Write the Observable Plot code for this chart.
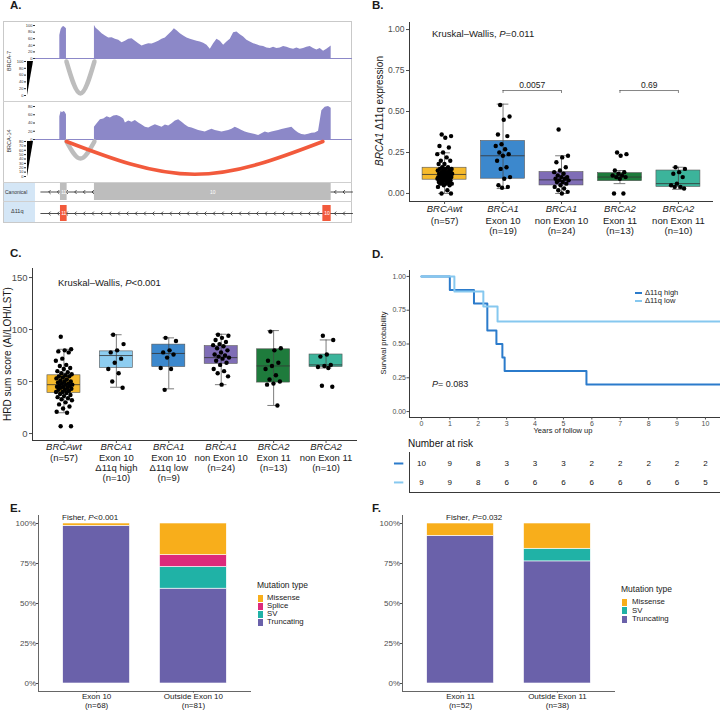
<!DOCTYPE html>
<html>
<head>
<meta charset="utf-8">
<script src="https://cdn.jsdelivr.net/npm/d3@7"></script>
<script src="https://cdn.jsdelivr.net/npm/@observablehq/plot@0.6"></script>
<style>
  body { margin: 0; background: #fff; font-family: "Liberation Sans", Arial, Helvetica, sans-serif; }
  #fig { position: relative; width: 720px; height: 711px; overflow: hidden; background: #fff; }
  .lbl { position: absolute; white-space: nowrap; line-height: 1; color: #1a1a1a; }
  .vt { position: absolute; white-space: nowrap; line-height: 1; color: #1a1a1a; transform: translate(-50%, -50%) rotate(-90deg); }
  .blk { position: absolute; }
</style>
</head>
<body>
<div id="fig"></div>
<script>
const FONT = "'Liberation Sans', Arial, Helvetica, sans-serif";

// ---------------- Panel A: coverage + sashimi tracks (relative genomic position units) ----------------
const posDomain = [105, 1057];
const exon11Pos = [178, 182, 186, 190, 194, 198];
const cov7Exon11 = [70, 88, 95, 97, 94, 90];
const cov14Exon11 = [55, 68, 65, 68, 66, 60];
const cov7Exon10Pos = [282,287,295,305,315,325,335,345,355,365,375,385,395,405,415,425,435,445,455,465,475,485,495,505,515,522,530,540,550,560,570,580,590,600,610,620,630,640,650,660,670,680,690,700,710,720,730,740,750,760,770,780,790,800,810,820,830,840,850,860,870,880,890,900,910,920,930,940,950,960,970,980,993];
const cov7Exon10 = [100,92,85,75,68,62,63,58,55,48,52,58,60,52,45,38,42,45,44,48,52,58,62,72,82,90,84,75,68,62,58,55,52,50,46,40,28,45,58,52,40,50,58,78,80,72,65,55,50,45,42,38,36,32,30,34,30,32,36,34,30,28,32,28,30,34,36,30,26,30,22,28,38];
const cov14Exon10Pos = [282,290,300,310,320,330,340,350,360,370,375,385,395,405,415,425,435,445,455,465,475,485,495,505,515,525,535,545,555,565,575,585,595,605,615,625,635,645,655,665,675,685,695,705,715,725,735,745,755,765,775,785,795,805,815,825,835,845,855,865,875,885,895,905,915,925,935,945,955,965,975,985,993];
const cov14Exon10 = [30,38,48,50,55,52,57,58,55,50,40,45,42,46,40,35,30,28,32,36,33,30,35,33,38,45,48,42,35,30,28,25,22,20,18,22,25,22,20,18,20,22,25,30,26,22,18,16,14,12,10,14,18,16,18,20,22,24,26,28,30,22,16,12,11,13,15,16,20,70,78,80,76];

// splice junctions drawn as arcs under each sample
const juncSample = ["BRCA-7", "BRCA-14", "BRCA-14"];
const juncStart = [198, 198, 198];
const juncEnd = [282, 282, 968];
const juncBottom = [6, 41, 5];
const juncKind = ["canonical", "canonical", "Δ11q"];

// transcript models
const exonNames = ["11", "10"];
const canonicalStart = [180, 282];
const canonicalEnd = [200, 993];
const deltaStart = [180, 968];
const deltaEnd = [200, 993];

// ---------------- Panel B: BRCA1 Δ11q expression ----------------
const bGene = ["BRCAwt", "BRCA1", "BRCA1", "BRCA2", "BRCA2"];
const bSub = ["(n=57)", "Exon 10\n(n=19)", "non Exon 10\n(n=24)", "Exon 11\n(n=13)", "non Exon 11\n(n=10)"];
const bColors = ["#F6BA2C", "#3C88CD", "#7F6DB6", "#1E7B3C", "#3CB49B"];
const bQ1 = [0.084, 0.09, 0.049, 0.075, 0.04];
const bMed = [0.116, 0.23, 0.083, 0.10, 0.06];
const bQ3 = [0.157, 0.32, 0.13, 0.124, 0.14];
const bLo = [0.0, 0.03, 0.0, 0.06, 0.025];
const bHi = [0.248, 0.545, 0.23, 0.14, 0.16];
const bPoints = [
  [0.36,0.35,0.34,0.29,0.28,0.25,0.24,0.22,0.20,0.20,0.18,0.18,0.16,0.16,0.15,0.15,0.15,0.14,0.14,0.14,0.13,0.13,0.13,0.13,0.12,0.12,0.12,0.12,0.11,0.11,0.11,0.11,0.10,0.10,0.10,0.10,0.10,0.09,0.09,0.09,0.09,0.08,0.08,0.08,0.08,0.07,0.07,0.07,0.06,0.06,0.06,0.05,0.05,0.04,0.02,0.00,0.00],
  [0.54,0.47,0.45,0.36,0.35,0.30,0.29,0.27,0.25,0.24,0.23,0.20,0.16,0.15,0.10,0.09,0.05,0.04,0.035],
  [0.39,0.23,0.22,0.19,0.16,0.14,0.13,0.12,0.11,0.10,0.10,0.09,0.09,0.08,0.08,0.07,0.07,0.06,0.05,0.04,0.03,0.02,0.01,0.00],
  [0.25,0.24,0.23,0.14,0.13,0.12,0.11,0.11,0.10,0.10,0.09,0.00,0.00],
  [0.16,0.15,0.13,0.12,0.10,0.06,0.05,0.04,0.04,0.03]
];
const bCmpFrom = [2, 4];
const bCmpTo = [3, 5];
const bCmpY = [0.628, 0.628];
const bCmpLabel = ["0.0057", "0.69"];

// ---------------- Panel C: HRD sum score ----------------
const cGene = ["BRCAwt", "BRCA1", "BRCA1", "BRCA1", "BRCA2", "BRCA2"];
const cSub = ["(n=57)", "Exon 10\nΔ11q high\n(n=10)", "Exon 10\nΔ11q low\n(n=9)", "non Exon 10\n(n=24)", "Exon 11\n(n=13)", "non Exon 11\n(n=10)"];
const cColors = ["#F6BA2C", "#8DCDF0", "#3C88CD", "#7F6DB6", "#1E7B3C", "#3CB49B"];
const cQ1 = [39, 63, 64, 67, 49, 64];
const cMed = [47, 75, 77, 73, 65, 66];
const cQ3 = [56, 79, 85.5, 84, 81, 76];
const cLo = [20, 44.5, 43, 47, 27, 63];
const cHi = [81, 95, 92, 95.5, 99, 90];
const cPoints = [
  [93,81,80,79,78,72,70,66,65,63,62,60,59,58,57,56,55,55,54,53,52,51,50,50,49,48,48,47,47,46,46,45,45,44,44,43,42,42,41,40,40,39,38,37,36,35,34,33,32,30,28,26,24,21,20,7,7],
  [95,86,80,78,72,68,62,58,50,44],
  [92,89,80,78,76,73,63,62,42],
  [95,94,92,90,88,86,85,84,82,80,78,76,75,74,73,72,70,68,66,62,60,58,55,47],
  [98,82,80,70,68,65,62,56,52,50,48,47,27],
  [94,90,76,74,66,65,64,63,46,45]
];

// ---------------- Panel D: Kaplan–Meier by Δ11q level ----------------
const kmGroups = ["Δ11q high", "Δ11q low"];
const kmColors = ["#2B7BCB", "#86C8EF"];
const highTimes = [0, 1.0, 1.85, 2.32, 2.64, 2.85, 2.93, 5.81, 10.6];
const highSurv = [1, 0.9, 0.8, 0.6, 0.5, 0.4, 0.3, 0.2, 0.2];
const lowTimes = [0, 1.16, 2.18, 2.68, 10.6];
const lowSurv = [1, 0.889, 0.778, 0.667, 0.667];
const riskYears = [0, 1, 2, 3, 4, 5, 6, 7, 8, 9, 10];
const riskHigh = [10, 9, 8, 3, 3, 3, 2, 2, 2, 2, 2];
const riskLow = [9, 9, 8, 6, 6, 6, 6, 6, 6, 6, 5];

// ---------------- Panels E & F: mutation types ----------------
const mutTypes = ["Missense", "Splice", "SV", "Truncating"];
const mutColors = ["#F8AE1B", "#DD2A7B", "#20B2A6", "#6A61AA"];
const eGroups = ["Exon 10\n(n=68)", "Outside Exon 10\n(n=81)"];
const eMissense = [1, 16];
const eSplice = [0, 6];
const eSV = [0, 11];
const eTruncating = [67, 48];
const fGroups = ["Exon 11\n(n=52)", "Outside Exon 11\n(n=38)"];
const fMissense = [4, 6];
const fSplice = [0, 0];
const fSV = [0, 3];
const fTruncating = [48, 29];

// ---------------- helpers ----------------
const fig = document.getElementById("fig");
function place(node, left, top) {
  node.style.position = "absolute";
  node.style.left = left + "px";
  node.style.top = top + "px";
  fig.appendChild(node);
  return node;
}
function label(html, left, cy, size, opts = {}) {
  const d = document.createElement("div");
  d.className = "lbl";
  d.innerHTML = html;
  d.style.fontSize = size + "px";
  d.style.left = left + "px";
  d.style.top = cy + "px";
  d.style.transform = opts.center ? "translate(-50%,-50%)" : "translateY(-50%)";
  if (opts.bold) d.style.fontWeight = "bold";
  if (opts.color) d.style.color = opts.color;
  fig.appendChild(d);
  return d;
}
function vlabel(html, cx, cy, size, color) {
  const d = document.createElement("div");
  d.className = "vt";
  d.innerHTML = html;
  d.style.fontSize = size + "px";
  d.style.left = cx + "px";
  d.style.top = cy + "px";
  if (color) d.style.color = color;
  fig.appendChild(d);
  return d;
}
function block(left, top, w, h, css) {
  const d = document.createElement("div");
  d.className = "blk";
  Object.assign(d.style, {left: left + "px", top: top + "px", width: w + "px", height: h + "px"}, css);
  fig.appendChild(d);
  return d;
}
const style = (size, color = "#4d4d4d") => ({background: "transparent", fontFamily: FONT, fontSize: size + "px", color, overflow: "visible"});
const jit = (j, w) => (((j * 0.6180339887 + 0.31) % 1) - 0.5) * 2 * w;

// ---------------- Panel A ----------------
block(3, 21, 349, 202, {border: "1px solid #c9c9c9", boxSizing: "border-box"});
block(4, 183, 31, 18, {background: "#D4E6F6"});
block(4, 202, 31, 20, {background: "#D4E6F6"});
block(3, 101, 349, 1, {background: "#cfcfcf"});
block(3, 182, 349, 1, {background: "#cfcfcf"});
block(3, 201, 349, 1, {background: "#cfcfcf"});

const covColor = "#8C88C8";
function coverageRows(segments) {
  return segments.flatMap(([pos, val], s) => [
    {segment: s, pos: pos[0], value: 0},
    ...pos.map((p, k) => ({segment: s, pos: p, value: val[k]})),
    {segment: s, pos: pos[pos.length - 1], value: 0}
  ]);
}
// each junction: a smooth arc from its donor to its acceptor, dipping to its bottom value
function arcRows(sample, top) {
  return juncSample.flatMap((s, k) => s !== sample ? [] : [
    {id: k, kind: juncKind[k], pos: juncStart[k], y: top},
    {id: k, kind: juncKind[k], pos: (juncStart[k] + juncEnd[k]) / 2, y: juncBottom[k]},
    {id: k, kind: juncKind[k], pos: juncEnd[k], y: top}
  ]);
}
function trackPlot(top, height, mt, mb, ydomain, marks) {
  const svg = Plot.plot({
    width: 349, height, marginLeft: 32, marginRight: 0, marginTop: mt, marginBottom: mb,
    x: {domain: posDomain, axis: null},
    y: {domain: ydomain, axis: null},
    style: style(4, "#333"),
    marks
  });
  place(svg, 3, top);
}
function coverageTrack(top, height, mt, mb, ymax, ticks, rows) {
  trackPlot(top, height, mt, mb, [0, ymax], [
    Plot.ruleY([0], {stroke: covColor, strokeWidth: 1}),
    Plot.areaY(rows, {x: "pos", y: "value", z: "segment", fill: covColor}),
    Plot.axisY({ticks, tickSize: 2, tickPadding: 1, fontSize: 4, label: null})
  ]);
}
function sashimiTrack(top, height, mt, mb, ymax, ticks, sample) {
  const rows = arcRows(sample, ymax);
  trackPlot(top, height, mt, mb, [0, ymax], [
    Plot.areaX([0, ymax], {y: d => d, x1: () => 81, x2: d => 81 + d * 18 / ymax, fill: "#000"}),
    Plot.axisY({ticks, tickSize: 2, tickPadding: 1, fontSize: 4, dx: -9, label: null}),
    Plot.line(rows.filter(d => d.kind === "canonical"), {x: "pos", y: "y", z: "id", stroke: "#BDBDBD", strokeWidth: 4.5, curve: "natural"}),
    Plot.line(rows.filter(d => d.kind !== "canonical"), {x: "pos", y: "y", z: "id", stroke: "#F25A3C", strokeWidth: 3.6, curve: "natural"})
  ]);
}
function modelTrack(top, height, mt, mb, starts, ends, fill) {
  const exons = exonNames.map((name, k) => ({name, start: starts[k], end: ends[k]}));
  const arrowPos = d3.range(posDomain[1], posDomain[0] - 1, -26);
  trackPlot(top, height, mt, mb, [-1, 1], [
    Plot.line(arrowPos, {x: d => d, y: () => 0, stroke: "#222", strokeWidth: 0.8, markerMid: "arrow"}),
    Plot.rect(exons, {x1: "start", x2: "end", y1: () => -1, y2: () => 1, fill}),
    Plot.text(exons, {x: d => (d.start + d.end) / 2, y: () => 0, text: "name", fill: "#fff", fontSize: 5})
  ]);
}

coverageTrack(21, 38, 4, 1, 100, [0, 20, 40, 60, 80, 100], coverageRows([[exon11Pos, cov7Exon11], [cov7Exon10Pos, cov7Exon10]]));
sashimiTrack(59, 42, 2, 6, 100, [0, 20, 40, 60, 80, 100], "BRCA-7");
coverageTrack(101, 39, 5, 1, 80, [0, 20, 40, 60, 80], coverageRows([[exon11Pos, cov14Exon11], [cov14Exon10Pos, cov14Exon10]]));
sashimiTrack(140, 42, 1, 6, 80, [0, 10, 20, 30, 40, 50, 60, 70, 80], "BRCA-14");
modelTrack(183, 18, 0, 1, canonicalStart, canonicalEnd, "#BDBDBD");
modelTrack(202, 21, 3, 2, deltaStart, deltaEnd, "#F25A3C");

vlabel("BRCA-7", 10, 61, 5.5, "#333");
vlabel("BRCA-14", 10, 141, 5.5, "#333");
label("Canonical", 5, 192, 5, {color: "#333"});
label("Δ11q", 11, 212, 5.5, {color: "#333"});

// ---------------- box + jitter panels (B, C) ----------------
function boxPanel(o) {
  const n = o.gene.length;
  const idx = d3.range(1, n + 1);
  const boxes = idx.map((i, k) => ({i, q1: o.q1[k], med: o.med[k], q3: o.q3[k], lo: o.lo[k], hi: o.hi[k], color: o.colors[k]}));
  const dots = o.points.flatMap((vals, k) => vals.map((v, j) => ({x: k + 1 + jit(j, o.jw), y: v})));
  const x0 = 0.4, x1 = n + 0.6;
  const svg = Plot.plot({
    width: o.width, height: o.height,
    marginLeft: o.ml, marginRight: o.mr, marginTop: o.mt, marginBottom: o.mb,
    x: {domain: [x0, x1], axis: null},
    y: {domain: o.ydomain, axis: null},
    color: {type: "identity"},
    style: style(o.tickFont),
    marks: [
      Plot.rectY(boxes, {x1: d => d.i - o.hw, x2: d => d.i + o.hw, y1: "q1", y2: "q3", fill: "color", stroke: "#555", strokeWidth: 0.6}),
      Plot.ruleY(boxes, {x1: d => d.i - o.hw, x2: d => d.i + o.hw, y: "med", stroke: "#333", strokeWidth: 0.8}),
      Plot.ruleX(boxes, {x: "i", y1: "lo", y2: "hi", stroke: "#444", strokeWidth: 0.7}),
      Plot.ruleY(boxes, {x1: d => d.i - o.cap, x2: d => d.i + o.cap, y: "hi", stroke: "#444", strokeWidth: 0.7}),
      Plot.ruleY(boxes, {x1: d => d.i - o.cap, x2: d => d.i + o.cap, y: "lo", stroke: "#444", strokeWidth: 0.7}),
      Plot.dot(dots, {x: "x", y: "y", r: 2.2, fill: "#000"}),
      Plot.ruleX([x0], {stroke: "#222", strokeWidth: 0.9}),
      Plot.ruleY([o.ydomain[0]], {stroke: "#222", strokeWidth: 0.9}),
      Plot.axisY({ticks: o.yticks, tickFormat: o.yfmt, tickSize: 3, tickPadding: 2, fontSize: o.tickFont, label: null}),
      Plot.axisX({ticks: idx, tickFormat: () => "", tickSize: 3, label: null}),
      Plot.text(idx, {x: d => d, text: (d, k) => o.gene[k], frameAnchor: "bottom", lineAnchor: "top", dy: o.dy1, fontStyle: "italic", fontSize: 9.5, fill: "#1a1a1a"}),
      Plot.text(idx, {x: d => d, text: (d, k) => o.sub[k], frameAnchor: "bottom", lineAnchor: "top", dy: o.dy2, fontSize: 9.5, lineHeight: o.lh, fill: "#1a1a1a"}),
      ...(o.extra || [])
    ]
  });
  place(svg, o.left, o.top);
}

const bCmp = bCmpFrom.map((a, k) => ({a, b: bCmpTo[k], y: bCmpY[k], p: bCmpLabel[k]}));
boxPanel({
  left: 360, top: 0, width: 360, height: 240, ml: 49, mr: 7, mt: 22, mb: 39,
  ydomain: [-0.049, 1.043], yticks: [0, 0.25, 0.5, 0.75, 1], yfmt: d3.format(".2f"), tickFont: 8.5,
  gene: bGene, sub: bSub, colors: bColors, q1: bQ1, med: bMed, q3: bQ3, lo: bLo, hi: bHi, points: bPoints,
  hw: 0.376, cap: 0.1, jw: 0.13, dy1: 3.3, dy2: 14.5, lh: 1.13,
  extra: [
    Plot.ruleY(bCmp, {x1: "a", x2: "b", y: "y", stroke: "#333", strokeWidth: 0.6}),
    Plot.ruleX(bCmp, {x: "a", y1: d => d.y - 0.018, y2: "y", stroke: "#333", strokeWidth: 0.6}),
    Plot.ruleX(bCmp, {x: "b", y1: d => d.y - 0.018, y2: "y", stroke: "#333", strokeWidth: 0.6}),
    Plot.text(bCmp, {x: d => (d.a + d.b) / 2, y: "y", text: "p", dy: -5, lineAnchor: "middle", fontSize: 8.5, fill: "#1a1a1a"})
  ]
});

boxPanel({
  left: 0, top: 262, width: 360, height: 238, ml: 32, mr: 3, mt: 6, mb: 60,
  ydomain: [-6.7, 158.7], yticks: [0, 50, 100, 150], yfmt: d3.format("d"), tickFont: 9.5,
  gene: cGene, sub: cSub, colors: cColors, q1: cQ1, med: cMed, q3: cQ3, lo: cLo, hi: cHi, points: cPoints,
  hw: 0.315, cap: 0.11, jw: 0.16, dy1: 2.6, dy2: 12.6, lh: 1.1
});

// ---------------- Panel D ----------------
const kmRows = [
  ...highTimes.map((t, k) => ({group: kmGroups[0], t, s: highSurv[k]})),
  ...lowTimes.map((t, k) => ({group: kmGroups[1], t, s: lowSurv[k]}))
];
const kmX = [-0.42, 10.53];
place(Plot.plot({
  width: 360, height: 175, marginLeft: 49, marginRight: 0, marginTop: 8, marginBottom: 20,
  x: {domain: kmX, axis: null},
  y: {domain: [-0.044, 1.044], axis: null},
  color: {domain: kmGroups, range: kmColors},
  style: style(7),
  marks: [
    Plot.ruleX([kmX[0]], {stroke: "#222", strokeWidth: 0.9}),
    Plot.ruleY([-0.044], {stroke: "#222", strokeWidth: 0.9}),
    Plot.axisY({ticks: [0, 0.25, 0.5, 0.75, 1], tickFormat: d3.format(".2f"), tickSize: 2.5, tickPadding: 1, fontSize: 7, label: null}),
    Plot.axisX({ticks: riskYears, tickSize: 2.5, tickPadding: 1, fontSize: 7, label: null}),
    Plot.line(kmRows, {x: "t", y: "s", z: "group", stroke: "group", curve: "step-after", strokeWidth: 2})
  ]
}), 360, 262);

const riskRows = riskYears.flatMap((t, k) => [{t, row: 1, n: riskHigh[k]}, {t, row: 2, n: riskLow[k]}]);
place(Plot.plot({
  width: 360, height: 45, marginLeft: 49, marginRight: 0, marginTop: 2, marginBottom: 3,
  x: {domain: kmX, axis: null},
  y: {domain: [2.53, 0.42], axis: null},
  color: {domain: [1, 2], range: kmColors},
  style: style(8, "#111"),
  marks: [
    Plot.ruleX([kmX[0]], {stroke: "#222", strokeWidth: 0.9}),
    Plot.ruleY([2.53], {stroke: "#222", strokeWidth: 0.9}),
    Plot.ruleY([1, 2], {y: d => d, x1: () => -0.95, x2: () => -0.62, stroke: d => d, strokeWidth: 2}),
    Plot.text(riskRows, {x: "t", y: "row", text: "n", fontSize: 8, fill: "#111"})
  ]
}), 360, 450);

// ---------------- Panels E & F ----------------
function mutPanel(left, ml, mr, groups, counts) {
  const stackOrder = ["Truncating", "SV", "Splice", "Missense"];
  const segs = [];
  groups.forEach((g, gi) => {
    const total = d3.sum(stackOrder, t => counts[t][gi]);
    let acc = 0;
    for (const t of stackOrder) {
      const c = counts[t][gi];
      if (!c) continue;
      segs.push({i: gi + 1, type: t, y1: acc / total, y2: (acc + c) / total});
      acc += c;
    }
  });
  place(Plot.plot({
    width: 360, height: 201, marginLeft: ml, marginRight: mr, marginTop: 6, marginBottom: 19,
    x: {domain: [0.4, 2.6], axis: null},
    y: {domain: [-0.05, 1.05], axis: null},
    color: {domain: mutTypes, range: mutColors},
    style: style(8),
    marks: [
      Plot.rectY(segs, {x1: d => d.i - 0.345, x2: d => d.i + 0.345, y1: "y1", y2: "y2", fill: "type", stroke: "#fff", strokeWidth: 0.6}),
      Plot.ruleX([0.4], {stroke: "#555", strokeWidth: 0.9}),
      Plot.ruleY([-0.05], {stroke: "#555", strokeWidth: 0.9}),
      Plot.axisY({ticks: [0, 0.25, 0.5, 0.75, 1], tickFormat: d3.format(".0%"), tickSize: 2, tickPadding: 0.5, fontSize: 8, label: null}),
      Plot.axisX({ticks: [1, 2], tickFormat: i => groups[i - 1], tickSize: 1.5, tickPadding: 0, fontSize: 8, lineHeight: 1.1, fill: "#222", label: null})
    ]
  }), left, 509);
}
mutPanel(0, 38, 109, eGroups, {Missense: eMissense, Splice: eSplice, SV: eSV, Truncating: eTruncating});
mutPanel(360, 42, 105, fGroups, {Missense: fMissense, Splice: fSplice, SV: fSV, Truncating: fTruncating});

// ---------------- titles, annotations, legends ----------------
label("A.", 10, 6, 11.5, {bold: true});
label("B.", 372, 6, 11.5, {bold: true});
label("C.", 10, 254, 11.5, {bold: true});
label("D.", 372, 255, 11.5, {bold: true});
label("E.", 10, 509, 11.5, {bold: true});
label("F.", 372, 509, 11.5, {bold: true});

label("Kruskal–Wallis, <i>P</i>=0.011", 432, 34, 9.5);
vlabel("<i>BRCA1</i> Δ11q expression", 380, 111, 10);
label("Kruskal–Wallis, <i>P</i>&lt;0.001", 58, 283, 9.5);
vlabel("HRD sum score (AI/LOH/LST)", 8, 354, 10);

vlabel("Survival probability", 384, 343, 7.5);
label("Years of follow up", 563, 431, 7.5, {center: true});
label("<i>P</i>= 0.083", 432, 384, 9);
kmGroups.forEach((g, k) => {
  block(635, 293 + k * 8 - 1, 7, 2, {background: kmColors[k]});
  label(g, 645, 293 + k * 8, 7.5);
});
label("Number at risk", 408, 444, 10, {color: "#111"});

label("Fisher, <i>P</i>&lt;0.001", 62, 518, 8);
label("Fisher, <i>P</i>=0.032", 446, 518, 8);

function mutLegend(left, titleY, types, firstY, step, textLeft) {
  label("Mutation type", left, titleY, 8.5);
  types.forEach((t, k) => {
    const cy = firstY + k * step;
    block(left + 1, cy - 3.5, 5, 7, {background: mutColors[mutTypes.indexOf(t)]});
    label(t, textLeft, cy, 7.8);
  });
}
mutLegend(257, 585, ["Missense", "Splice", "SV", "Truncating"], 598, 8, 267);
mutLegend(621, 589, ["Missense", "SV", "Truncating"], 602, 8.5, 632);
</script>
</body>
</html>
